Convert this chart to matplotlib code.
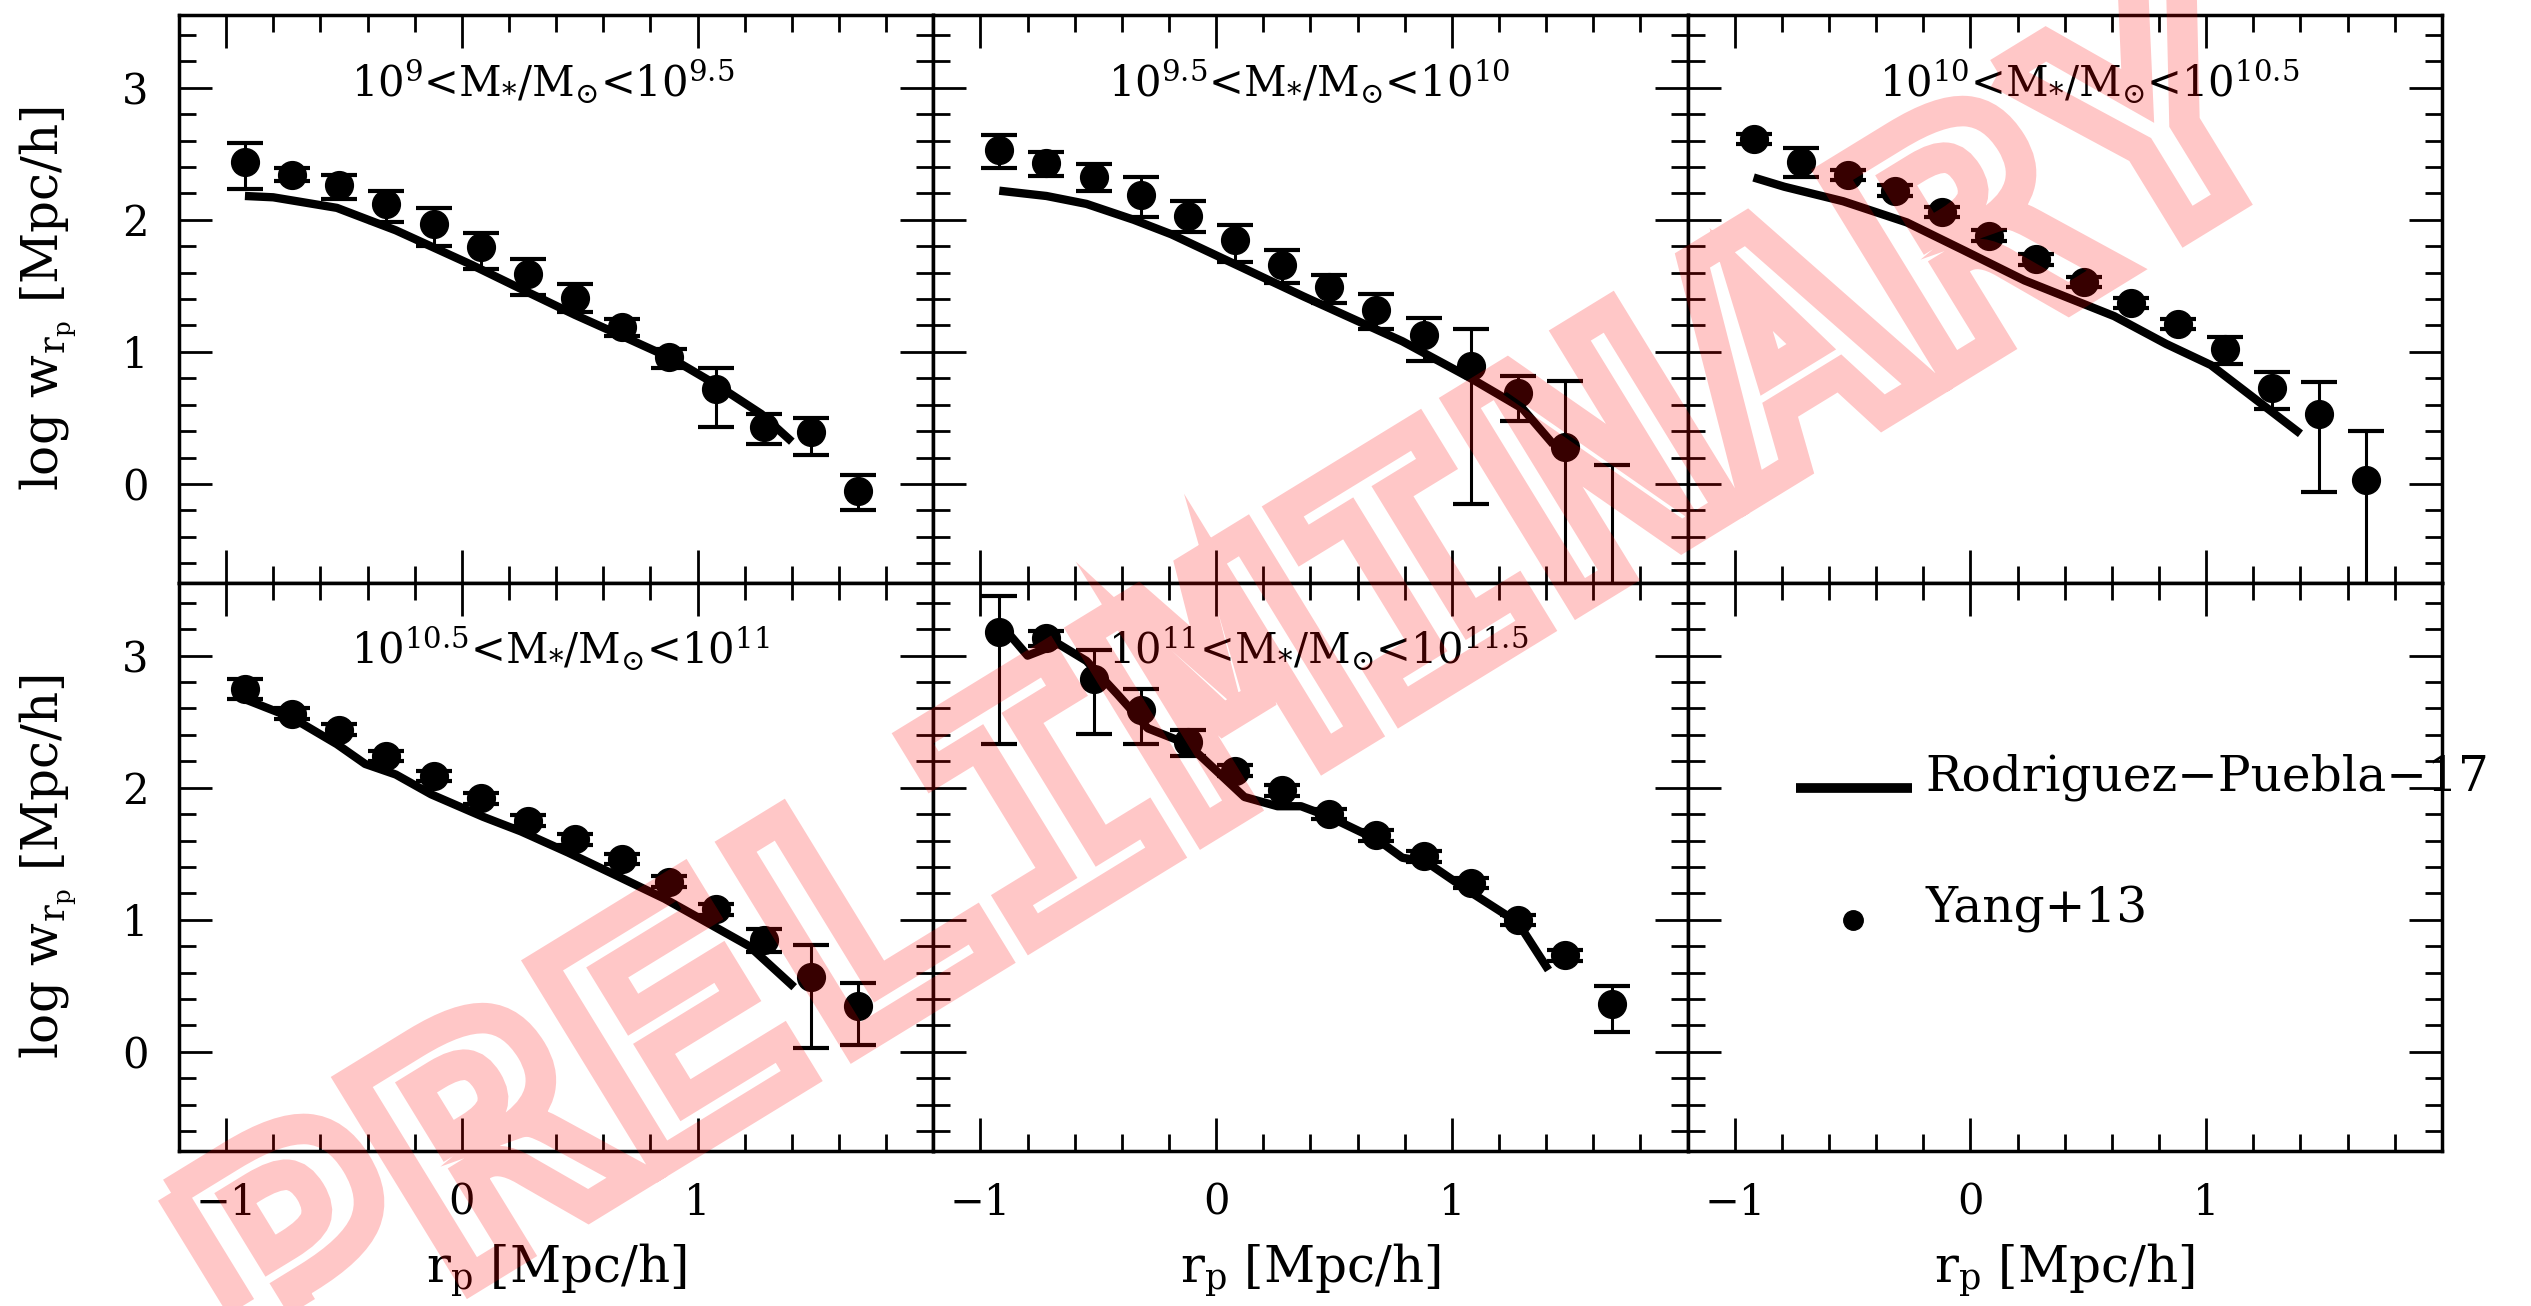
import matplotlib
matplotlib.use('Agg')
import matplotlib.pyplot as plt
from matplotlib.ticker import MultipleLocator
from matplotlib.textpath import TextPath
from matplotlib.patches import PathPatch
from matplotlib.font_manager import FontProperties
from matplotlib.transforms import Affine2D

plt.rcParams['font.family'] = 'DejaVu Serif'
plt.rcParams['mathtext.fontset'] = 'custom'
plt.rcParams['mathtext.rm'] = 'DejaVu Serif'
plt.rcParams['mathtext.it'] = 'DejaVu Serif'
plt.rcParams['mathtext.bf'] = 'DejaVu Serif:bold'

# log r_p bins of the Yang+13 measurements (same in every panel)
rp = [-0.92, -0.72, -0.52, -0.32, -0.12, 0.08, 0.28, 0.48, 0.68, 0.88, 1.08, 1.28, 1.48, 1.68]

titles = ['10$^{9}$<M$_{*}$/M$_{\\odot}$<10$^{9.5}$',
          '10$^{9.5}$<M$_{*}$/M$_{\\odot}$<10$^{10}$',
          '10$^{10}$<M$_{*}$/M$_{\\odot}$<10$^{10.5}$',
          '10$^{10.5}$<M$_{*}$/M$_{\\odot}$<10$^{11}$',
          '10$^{11}$<M$_{*}$/M$_{\\odot}$<10$^{11.5}$']

# Yang+13 points: value, upper end and lower end of the error bar
y1 = [2.44, 2.34, 2.26, 2.12, 1.97, 1.79, 1.59, 1.41, 1.19, 0.96, 0.72, 0.43, 0.39, -0.05]
hi1 = [2.58, 2.39, 2.34, 2.22, 2.09, 1.90, 1.70, 1.51, 1.25, 1.02, 0.88, 0.53, 0.50, 0.07]
lo1 = [2.23, 2.29, 2.16, 1.98, 1.80, 1.63, 1.43, 1.30, 1.12, 0.88, 0.43, 0.30, 0.22, -0.20]

y2 = [2.53, 2.43, 2.32, 2.19, 2.03, 1.85, 1.66, 1.49, 1.32, 1.13, 0.89, 0.69, 0.28, -1.00]
hi2 = [2.64, 2.51, 2.42, 2.32, 2.14, 1.96, 1.77, 1.58, 1.44, 1.26, 1.17, 0.82, 0.78, 0.14]
lo2 = [2.39, 2.33, 2.22, 2.02, 1.91, 1.68, 1.52, 1.37, 1.17, 0.93, -0.15, 0.48, -1.50, -2.00]

y3 = [2.61, 2.44, 2.34, 2.22, 2.06, 1.88, 1.70, 1.53, 1.37, 1.21, 1.02, 0.73, 0.53, 0.03]
hi3 = [2.65, 2.54, 2.38, 2.26, 2.10, 1.92, 1.74, 1.57, 1.41, 1.25, 1.11, 0.85, 0.77, 0.40]
lo3 = [2.57, 2.32, 2.30, 2.18, 2.02, 1.84, 1.66, 1.49, 1.33, 1.17, 0.91, 0.57, -0.06, -1.50]

y4 = [2.75, 2.56, 2.44, 2.24, 2.09, 1.92, 1.75, 1.61, 1.46, 1.29, 1.08, 0.85, 0.57, 0.35]
hi4 = [2.82, 2.60, 2.48, 2.28, 2.13, 1.96, 1.79, 1.65, 1.50, 1.33, 1.12, 0.93, 0.81, 0.52]
lo4 = [2.67, 2.52, 2.40, 2.20, 2.05, 1.88, 1.71, 1.57, 1.42, 1.25, 1.04, 0.76, 0.03, 0.05]

y5 = [3.18, 3.13, 2.82, 2.59, 2.35, 2.13, 1.98, 1.80, 1.64, 1.48, 1.28, 1.00, 0.73, 0.36]
hi5 = [3.45, 3.19, 3.04, 2.75, 2.44, 2.17, 2.02, 1.84, 1.68, 1.52, 1.32, 1.04, 0.77, 0.50]
lo5 = [2.33, 3.07, 2.41, 2.33, 2.24, 2.09, 1.94, 1.76, 1.60, 1.44, 1.24, 0.96, 0.69, 0.15]

# Rodriguez-Puebla+17 model curves
x1m = [-0.92, -0.80, -0.53, -0.28, 0.04, 0.27, 0.48, 0.68, 0.89, 1.09, 1.27, 1.40]
y1m = [2.18, 2.17, 2.09, 1.92, 1.66, 1.46, 1.28, 1.12, 0.95, 0.74, 0.53, 0.32]

x2m = [-0.92, -0.72, -0.55, -0.35, -0.19, 0.06, 0.37, 0.79, 1.08, 1.30, 1.43]
y2m = [2.22, 2.18, 2.12, 2.00, 1.89, 1.68, 1.42, 1.08, 0.80, 0.57, 0.30]

x3m = [-0.92, -0.79, -0.54, -0.27, -0.03, 0.23, 0.61, 0.83, 1.02, 1.21, 1.40]
y3m = [2.32, 2.25, 2.14, 1.98, 1.77, 1.54, 1.27, 1.06, 0.90, 0.64, 0.38]

x4m = [-0.92, -0.72, -0.53, -0.41, -0.28, -0.13, 0.09, 0.25, 0.45, 0.65, 0.86, 1.04, 1.22, 1.41]
y4m = [2.67, 2.53, 2.33, 2.18, 2.10, 1.95, 1.78, 1.67, 1.51, 1.34, 1.16, 0.98, 0.80, 0.49]

x5m = [-0.92, -0.80, -0.67, -0.55, -0.42, -0.29, -0.12, 0.12, 0.26, 0.36, 0.48, 0.69, 0.79, 0.89, 1.07, 1.28, 1.41]
y5m = [3.25, 3.00, 3.09, 2.96, 2.71, 2.45, 2.33, 1.93, 1.86, 1.86, 1.78, 1.60, 1.47, 1.44, 1.22, 0.98, 0.62]

obs = [(y1, hi1, lo1), (y2, hi2, lo2), (y3, hi3, lo3), (y4, hi4, lo4), (y5, hi5, lo5)]
model = [(x1m, y1m), (x2m, y2m), (x3m, y3m), (x4m, y4m), (x5m, y5m)]
title_x = [-0.47, -0.46, -0.39, -0.47, -0.46]

fig, axes = plt.subplots(2, 3, sharex=True, sharey=True, figsize=(25.31, 13.06), dpi=100)
plt.subplots_adjust(left=0.0707, right=0.9648, top=0.9885, bottom=0.1187, wspace=0, hspace=0)

for i, ax in enumerate(axes.flat):
    ax.set_xlim(-1.2, 2.0)
    ax.set_ylim(-0.75, 3.55)
    ax.set_xticks([-1, 0, 1])
    ax.set_yticks([0, 1, 2, 3])
    ax.xaxis.set_minor_locator(MultipleLocator(0.2))
    ax.yaxis.set_minor_locator(MultipleLocator(0.2))
    ax.tick_params(which='both', direction='in', top=True, right=True, labelsize=30, pad=22)
    ax.tick_params(which='major', length=24, width=2)
    ax.tick_params(which='minor', length=12, width=2)
    for s in ax.spines.values():
        s.set_linewidth(2.5)

    if i < 5:
        y, hi, lo = obs[i]
        up = [h - v for h, v in zip(hi, y)]
        dn = [v - l for v, l in zip(y, lo)]
        ax.errorbar(rp, y, yerr=[dn, up], fmt='o', color='black', ms=20,
                    elinewidth=2.2, capsize=13, capthick=3)
        xm, ym = model[i]
        ax.plot(xm, ym, color='black', lw=6, solid_capstyle='butt')
        ax.text(title_x[i], 2.93, titles[i], fontsize=30, ha='left', va='baseline')

    if i % 3 == 0:
        ax.set_ylabel(r'log w$_{\mathrm{r}_\mathrm{p}}$ [Mpc/h]', fontsize=36, va='center')
        ax.yaxis.set_label_coords(-0.174, 0.5)
    if i >= 3:
        ax.set_xlabel(r'r$_\mathrm{p}$ [Mpc/h]', fontsize=36, va='center')
        ax.xaxis.set_label_coords(0.5, -0.211)

# legend drawn by hand in the empty panel
lax = axes[1, 2]
lax.plot([-0.74, -0.25], [2.0, 2.0], color='black', lw=7, solid_capstyle='butt')
lax.plot([-0.5], [1.0], 'o', color='black', ms=14)
lax.text(-0.19, 1.98, 'Rodriguez\u2212Puebla\u221217', fontsize=35, ha='left', va='baseline')
lax.text(-0.19, 0.98, 'Yang+13', fontsize=35, ha='left', va='baseline')

# PRELIMINARY watermark, outlined monospace letters on top of everything
wm_font = FontProperties(family='DejaVu Sans Mono', weight='bold')
tp = TextPath((0, 0), 'PRELIMINARY', size=1, prop=wm_font)
bb = tp.get_extents()
adv = TextPath((0, 0), 'PP', size=1, prop=wm_font).get_extents().x1 - \
    TextPath((0, 0), 'P', size=1, prop=wm_font).get_extents().x1
tr = (Affine2D().translate(-bb.x0 - bb.width / 2, -bb.y0 - bb.height / 2)
      .scale(2.17 / adv, 2.3 / bb.height)
      .rotate_deg(31.5).translate(12.36, 6.31))
wm = PathPatch(tr.transform_path(tp), facecolor='none', edgecolor=(1, 0, 0, 0.22),
               lw=22, joinstyle='miter', transform=fig.dpi_scale_trans, zorder=20)
fig.add_artist(wm)

fig.savefig('out.png', dpi=100)
